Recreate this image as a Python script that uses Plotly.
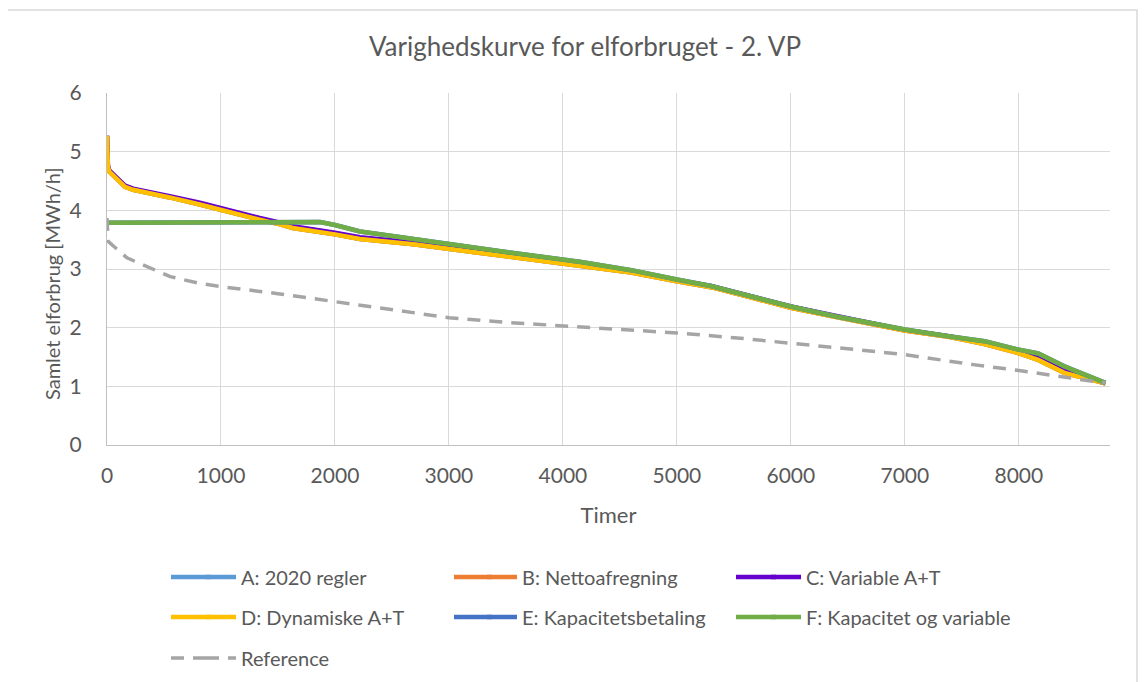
import plotly.graph_objects as go

# ---------------- data ----------------
hours_abcd = [0, 3, 8, 20, 70, 120, 158, 230, 315, 550, 815, 990, 1340, 1520, 1630, 2000, 2220, 2690,
              3000, 3500, 4160, 4600, 5000, 5300, 5640, 6000, 6400, 6700, 7000, 7400, 7700, 7990,
              8170, 8400, 8520, 8760]
a_2020 = [5.27, 4.95, 4.74, 4.66, 4.57, 4.47, 4.40, 4.35, 4.32, 4.22, 4.10, 4.01, 3.84, 3.76, 3.70,
          3.59, 3.51, 3.42, 3.34, 3.22, 3.05, 2.94, 2.79, 2.69, 2.52, 2.34, 2.18, 2.07, 1.95, 1.84,
          1.72, 1.57, 1.45, 1.23, 1.17, 1.05]
b_netto = [5.27, 4.95, 4.74, 4.66, 4.57, 4.47, 4.40, 4.35, 4.32, 4.22, 4.10, 4.01, 3.84, 3.76, 3.70,
           3.59, 3.51, 3.42, 3.34, 3.22, 3.05, 2.94, 2.79, 2.69, 2.52, 2.34, 2.18, 2.07, 1.95, 1.84,
           1.72, 1.57, 1.45, 1.23, 1.17, 1.05]
c_variable = [5.27, 4.96, 4.76, 4.68, 4.59, 4.49, 4.42, 4.37, 4.34, 4.24, 4.13, 4.04, 3.87, 3.79, 3.73,
              3.62, 3.54, 3.45, 3.37, 3.25, 3.08, 2.96, 2.81, 2.71, 2.54, 2.36, 2.20, 2.08, 1.96, 1.85,
              1.74, 1.60, 1.50, 1.27, 1.19, 1.05]
d_dynamisk = [5.27, 4.95, 4.74, 4.66, 4.57, 4.47, 4.40, 4.35, 4.32, 4.22, 4.10, 4.01, 3.84, 3.76, 3.70,
              3.59, 3.51, 3.42, 3.34, 3.22, 3.05, 2.94, 2.79, 2.69, 2.52, 2.34, 2.18, 2.07, 1.95, 1.84,
              1.72, 1.57, 1.45, 1.23, 1.17, 1.05]

hours_ef = [0, 1870, 2000, 2220, 2690, 3000, 3500, 4160, 4600, 5000, 5300, 5640, 6000, 6400, 6700,
            7000, 7400, 7700, 7990, 8170, 8400, 8520, 8760]
e_kapacitet = [3.79, 3.80, 3.75, 3.64, 3.51, 3.42, 3.29, 3.12, 2.98, 2.82, 2.71, 2.54, 2.36, 2.19, 2.08,
               1.97, 1.85, 1.77, 1.63, 1.56, 1.34, 1.25, 1.06]
f_kap_var = [3.79, 3.80, 3.75, 3.64, 3.51, 3.42, 3.29, 3.12, 2.98, 2.82, 2.71, 2.54, 2.36, 2.19, 2.08,
             1.97, 1.85, 1.77, 1.63, 1.56, 1.34, 1.25, 1.06]

hours_ref = [0, 2, 10, 175, 350, 555, 800, 1000, 1500, 2000, 2500, 3000, 3500, 4000, 4500, 5000,
             5500, 6000, 6500, 7000, 7400, 7600, 8000, 8190, 8425, 8600, 8760]
reference = [3.87, 3.67, 3.47, 3.19, 3.04, 2.87, 2.76, 2.70, 2.58, 2.44, 2.30, 2.17, 2.09, 2.03, 1.97,
             1.91, 1.83, 1.74, 1.64, 1.54, 1.42, 1.37, 1.27, 1.21, 1.15, 1.10, 1.06]

x_ticks = [0, 1000, 2000, 3000, 4000, 5000, 6000, 7000, 8000]

series = [
    ("A: 2020 regler", hours_abcd, a_2020, "#5B9BD5"),
    ("B: Nettoafregning", hours_abcd, b_netto, "#ED7D31"),
    ("C: Variable A+T", hours_abcd, c_variable, "#6600CC"),
    ("D: Dynamiske A+T", hours_abcd, d_dynamisk, "#FFC000"),
    ("E: Kapacitetsbetaling", hours_ef, e_kapacitet, "#4472C4"),
    ("F: Kapacitet og variable", hours_ef, f_kap_var, "#70AD47"),
]
REF_COLOR = "#A5A5A5"

FONT = "Lato"
GREY = "#595959"

# layout geometry (page pixels)
ML, MT, PW, PH = 99, 85, 1003, 352
OFF = 8  # page body offset
PLOT_L = OFF + ML
PLOT_B = OFF + MT + PH


def px_x(p):
    return (p - PLOT_L) / PW


def px_y(p):
    return (PLOT_B - p) / PH


legend_key_start = [171, 454, 736]  # where the legend key line begins
legend_cols = [201, 482, 766]       # legend box left edges (text starts ~40px further right)
legend_rows = [577, 617, 658]

fig = go.Figure()
names = []
key_shapes = []
for i, (name, xs, ys, col) in enumerate(series):
    lg = "legend" if i == 0 else f"legend{i + 1}"
    names.append(lg)
    fig.add_trace(go.Scatter(x=xs, y=ys, name=name, mode="lines", showlegend=True,
                             line=dict(color=col, width=4.5), legend=lg))
    r, c = divmod(i, 3)
    key_shapes.append(dict(type="line", xref="paper", yref="paper",
                           x0=px_x(legend_key_start[c]), x1=px_x(legend_cols[c] + 10),
                           y0=px_y(legend_rows[r]), y1=px_y(legend_rows[r]),
                           line=dict(color=col, width=4.5)))
fig.add_trace(go.Scatter(x=hours_ref, y=reference, name="Reference", mode="lines", showlegend=True,
                         line=dict(color=REF_COLOR, width=3.5, dash="13px,9px"), legend="legend7"))
names.append("legend7")
key_shapes.append(dict(type="line", xref="paper", yref="paper",
                       x0=px_x(legend_key_start[0]), x1=px_x(legend_cols[0] + 6),
                       y0=px_y(legend_rows[2]), y1=px_y(legend_rows[2]),
                       line=dict(color=REF_COLOR, width=3.5, dash="13px,9px")))

leg_common = dict(orientation="h", xref="paper", yref="paper", xanchor="left", yanchor="middle",
                  font=dict(family=FONT, size=20, color=GREY), bgcolor="rgba(0,0,0,0)")
legends = {}
for i, lg in enumerate(names):
    r, c = divmod(i, 3)
    legends[lg] = dict(x=px_x(legend_cols[c]), y=px_y(legend_rows[r]), **leg_common)

border = dict(type="rect", xref="paper", yref="paper",
              x0=px_x(6), x1=px_x(1137), y0=px_y(720), y1=px_y(10),
              line=dict(color="#D9D9D9", width=1.5), fillcolor="rgba(0,0,0,0)", layer="below")

fig.update_layout(
    width=1146, height=682, showlegend=True,
    margin=dict(l=ML, r=1146 - ML - PW, t=MT, b=682 - MT - PH),
    paper_bgcolor="white", plot_bgcolor="white",
    font=dict(family=FONT, color=GREY),
    title=dict(text="Varighedskurve for elforbruget - 2. VP",
               x=(585 - OFF) / 1146, xanchor="center", xref="container",
               y=1 - (47 - OFF) / 682, yanchor="middle", yref="container",
               font=dict(family=FONT, size=26, color=GREY)),
    xaxis=dict(range=[0, 8800], tickvals=x_ticks,
               showgrid=True, gridcolor="#D9D9D9", gridwidth=1, zeroline=False,
               showline=True, linecolor="#BFBFBF", linewidth=1,
               ticks="outside", ticklen=12, tickcolor="rgba(0,0,0,0)",
               tickfont=dict(family=FONT, size=21, color=GREY),
               title=dict(text="Timer", font=dict(family=FONT, size=22, color=GREY), standoff=21)),
    yaxis=dict(range=[0, 6], dtick=1, showgrid=True, gridcolor="#D9D9D9", gridwidth=1,
               zeroline=False, showline=True, linecolor="#BFBFBF", linewidth=1,
               ticks="outside", ticklen=20, tickcolor="rgba(0,0,0,0)",
               tickfont=dict(family=FONT, size=21, color=GREY)),
    annotations=[dict(text="Samlet elforbrug [MWh/h]", textangle=-90, showarrow=False,
                      xref="paper", yref="paper", x=px_x(52), y=px_y(284),
                      xanchor="center", yanchor="middle",
                      font=dict(family=FONT, size=20, color=GREY))],
    shapes=[border] + key_shapes,
    **legends,
)

fig.write_html("out.html")
